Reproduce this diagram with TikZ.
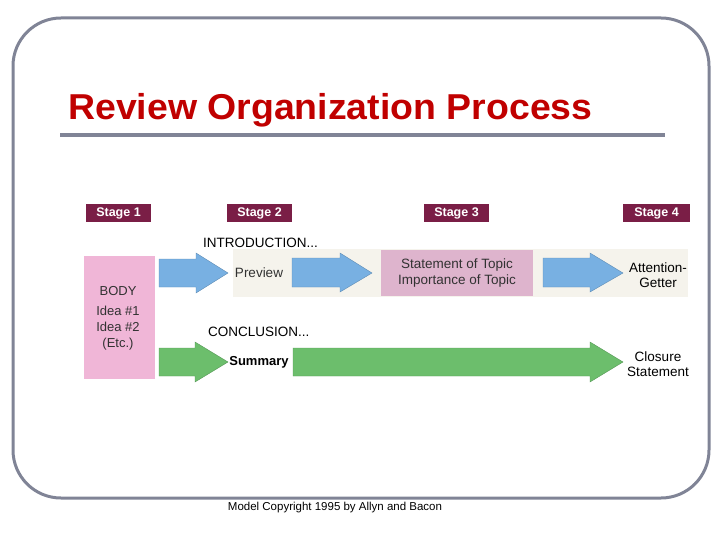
\documentclass[tikz,border=0pt]{standalone}
\usepackage{fontspec}
\setmainfont{Liberation Sans}
\definecolor{framegray}{RGB}{128,132,150}
\definecolor{titlered}{RGB}{192,0,0}
\definecolor{stagemaroon}{RGB}{122,30,70}
\definecolor{bodypink}{RGB}{240,182,215}
\definecolor{topicpink}{RGB}{222,180,205}
\definecolor{bandbeige}{RGB}{245,243,236}
\definecolor{arrowblue}{RGB}{120,176,226}
\definecolor{arrowgreen}{RGB}{108,190,108}
\definecolor{textgray}{RGB}{50,50,50}
\tikzset{
  stagebox/.style={fill=stagemaroon, text=white, font=\fontsize{12.5}{12.5}\selectfont\bfseries,
    minimum width=65pt, minimum height=18pt, inner sep=0pt},
  lbl/.style={font=\fontsize{13.5}{15.5}\selectfont, align=center, inner sep=0pt},
  bluearrow/.style={fill=arrowblue, draw=arrowblue!80!black, line width=0.4pt},
  greenarrow/.style={fill=arrowgreen, draw=arrowgreen!80!black, line width=0.4pt}
}
\begin{document}
\begin{tikzpicture}[x=1pt,y=-1pt]
\useasboundingbox (0,0) rectangle (720,540);
% frame
\draw[framegray, line width=3pt, rounded corners=48pt] (13,18) rectangle (709,498);
% title
\node[anchor=base west, inner sep=0pt, text=titlered, font=\fontsize{36}{36}\selectfont\bfseries, xscale=1.04] (title) at (68,120) {Review Organization Process};
\draw[framegray, line width=4pt] (60,135) -- (665,135);
% stage labels
\node[stagebox] (s1) at (118.5,213) {Stage 1};
\node[stagebox] (s2) at (259.5,213) {Stage 2};
\node[stagebox] (s3) at (456.5,213) {Stage 3};
\node[stagebox, minimum width=67pt] (s4) at (656.5,213) {Stage 4};
% band
\fill[bandbeige] (233,249) rectangle (688,297);
% topic box
\node[fill=topicpink, minimum width=152pt, minimum height=46pt, inner sep=0pt, lbl, text=textgray] (topic) at (457,273) {Statement of Topic\\Importance of Topic};
% body box
\node[fill=bodypink, minimum width=71pt, minimum height=123pt, inner sep=0pt] (body) at (119.5,317.5) {};
\node[lbl, text=textgray, font=\fontsize{13}{16}\selectfont] (bodytxt) at (118,318) {BODY\\[4pt]Idea \#1\\Idea \#2\\(Etc.)};
% headings
\node[lbl, anchor=west] (intro) at (203,243) {INTRODUCTION...};
\node[lbl, anchor=west] (concl) at (208,332) {CONCLUSION...};
% blue arrows
\draw[bluearrow] (159,259) -- (196,259) -- (196,253) -- (228,273) -- (196,293) -- (196,287) -- (159,287) -- cycle;
\draw[bluearrow] (292,258) -- (340,258) -- (340,253) -- (372,273) -- (340,292) -- (340,287) -- (292,287) -- cycle;
\draw[bluearrow] (543,258) -- (590,258) -- (590,253) -- (623,273) -- (590,292) -- (590,287) -- (543,287) -- cycle;
% green arrows
\draw[greenarrow] (159,348) -- (195,348) -- (195,342) -- (228,362) -- (195,382) -- (195,376) -- (159,376) -- cycle;
\draw[greenarrow] (293,348) -- (590,348) -- (590,342) -- (623,362) -- (590,382) -- (590,376) -- (293,376) -- cycle;
% labels
\node[lbl, text=textgray] (preview) at (259,273) {Preview};
\node[lbl, font=\fontsize{13}{15}\selectfont\bfseries] (summary) at (259,362) {Summary};
\node[lbl] (attn) at (658,275) {Attention-\\Getter};
\node[lbl] (closure) at (658,364) {Closure\\Statement};
% copyright
\node[inner sep=0pt, font=\fontsize{11.5}{12}\selectfont] (copy) at (335,508) {Model Copyright 1995 by Allyn and Bacon};
\end{tikzpicture}
\end{document}
